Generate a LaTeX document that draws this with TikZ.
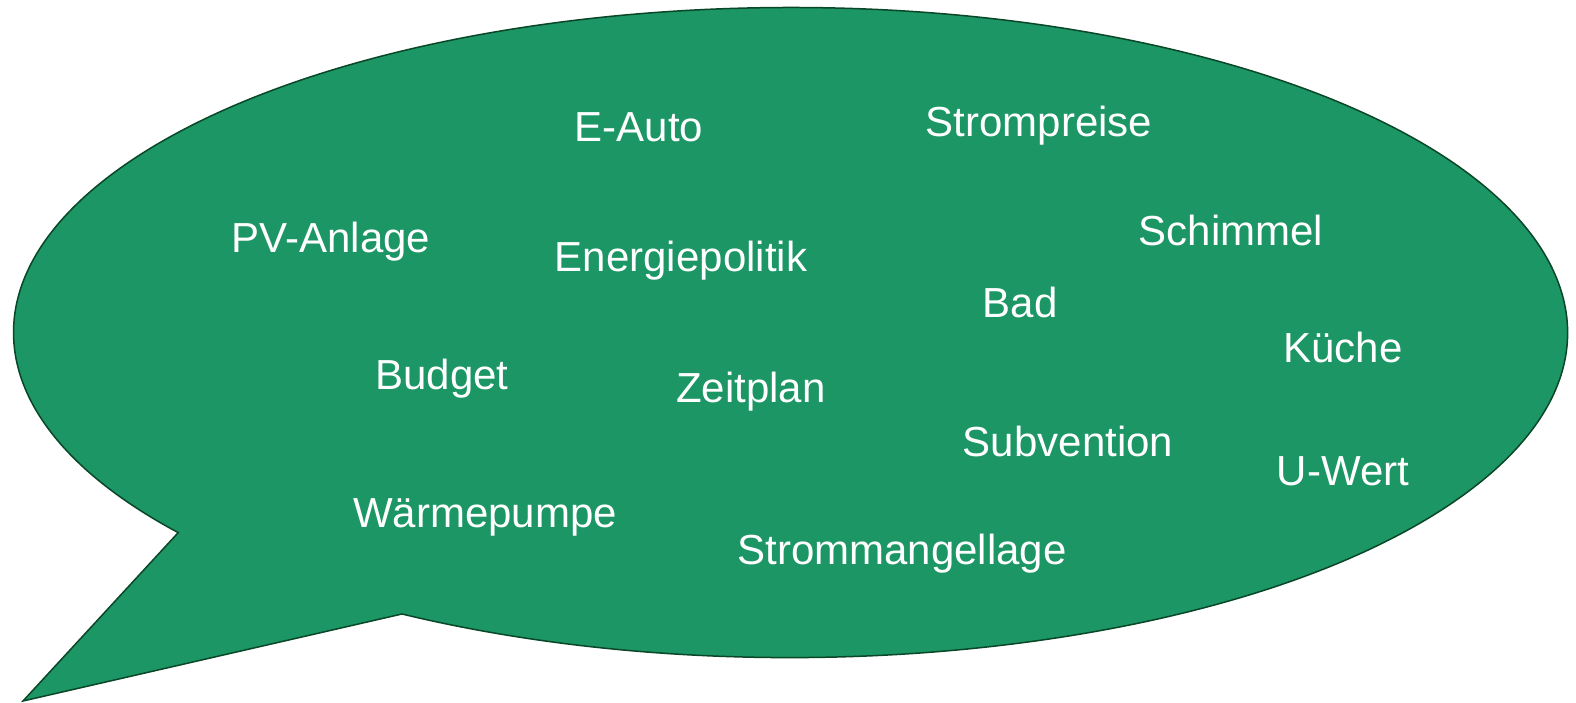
\documentclass[tikz,border=0pt]{standalone}
\usepackage{fontspec}
\setmainfont{Liberation Sans}
\definecolor{bubblefill}{RGB}{27,150,100}
\definecolor{bubbleline}{RGB}{10,70,40}
\begin{document}
\begin{tikzpicture}[x=1pt,y=1pt,
  word/.style={anchor=base,text=white,font=\fontsize{42}{50}\selectfont,inner sep=0pt}]
\useasboundingbox (0,0) rectangle (1576,702);
\draw[fill=bubblefill,draw=bubbleline,line width=1.5pt,line join=miter]
  (402,88) arc[start angle=240,end angle=578,x radius=777,y radius=325] -- (23,1) -- cycle;
\node[word] (eauto) at (639,560) {E-Auto};
\node[word] (strompreise) at (1039,565) {Strompreise};
\node[word] (pv) at (331,449) {PV-Anlage};
\node[word] (energie) at (681,430) {Energiepolitik};
\node[word] (schimmel) at (1231,456) {Schimmel};
\node[word] (bad) at (1020,384) {Bad};
\node[word] (kueche) at (1343,339) {Küche};
\node[word] (budget) at (442,312) {Budget};
\node[word] (zeitplan) at (751,299) {Zeitplan};
\node[word] (subvention) at (1068,246) {Subvention};
\node[word] (uwert) at (1343,217) {U-Wert};
\node[word] (waerme) at (485,175) {Wärmepumpe};
\node[word] (strommangel) at (902,138) {Strommangellage};
\end{tikzpicture}
\end{document}
